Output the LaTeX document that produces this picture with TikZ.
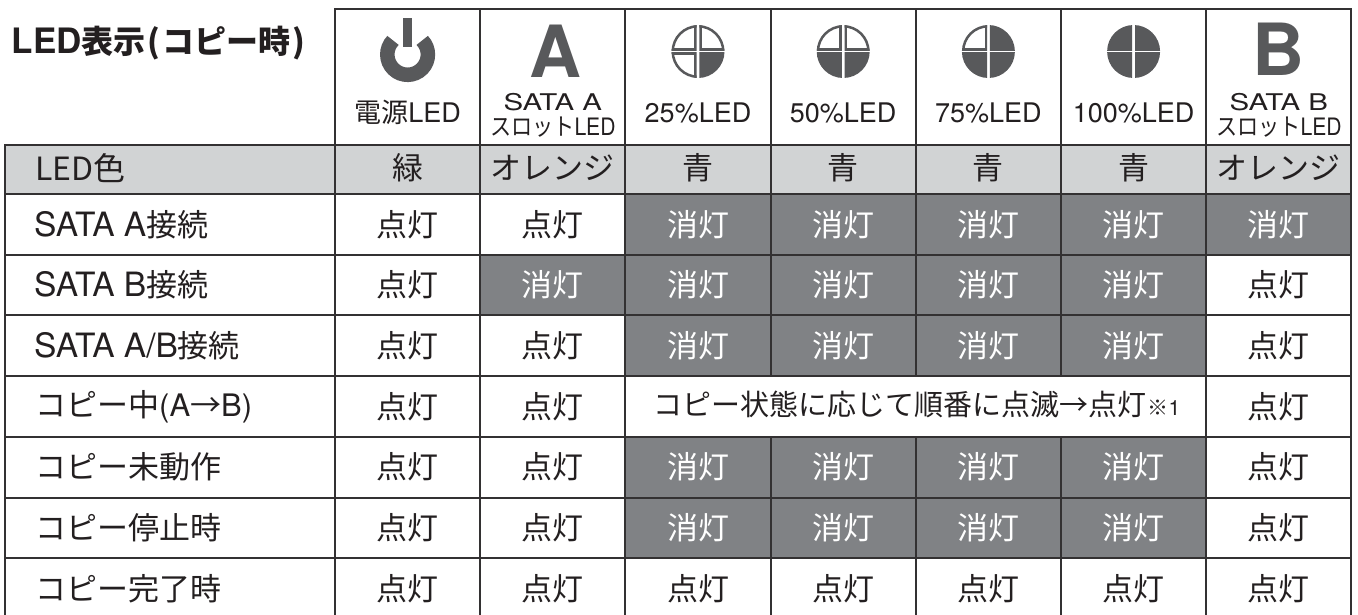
\documentclass[tikz,border=0pt]{standalone}
\usepackage{fontspec}
\usepackage{graphicx}
\setmainfont{Noto Sans CJK JP}
\newfontfamily\hv{TeX Gyre Heros}
\newcommand\h[1]{{\hv #1}}
\newcommand\sata[1]{{\hv\fontsize{33.5}{33.5}\selectfont #1}}
\definecolor{ink}{HTML}{231F20}
\definecolor{rule}{HTML}{333132}
\definecolor{band}{HTML}{D1D3D4}
\definecolor{dark}{HTML}{808285}
\definecolor{icon}{HTML}{58595B}
\tikzset{
  grid/.style={draw=rule, line width=2pt, line cap=rect},
  txt/.style={inner sep=0pt, text=ink, font=\fontsize{31}{31}\selectfont},
  lab/.style={inner sep=0pt, text=ink, anchor=west, font=\fontsize{31}{31}\selectfont},
  offtxt/.style={txt, text=white},
  hdr/.style={inner sep=0pt, text=ink, font=\fontsize{27}{27}\selectfont},
  hdrsmall/.style={inner sep=0pt, text=ink, font=\fontsize{23}{23}\selectfont},
  hdrkana/.style={inner sep=0pt, text=ink, font=\fontsize{24}{24}\selectfont},
  bigletter/.style={inner sep=0pt, text=icon, font=\hv\bfseries\fontsize{72}{72}\selectfont},
}
\newcommand\qg{1.4}
\newcommand\ledquad[5]{%
  \begin{scope}
    \clip ({#1+(#3)*\qg}, {#2+(#4)*\qg}) rectangle ++({(#3)*40}, {(#4)*40});
    \ifnum#5=1
      \fill[icon] (#1,#2) circle (26.5pt);
    \else
      \clip (#1,#2) circle (26.5pt);
      \draw[icon, line width=5pt] (#1,#2) circle (26.5pt);
      \draw[icon, line width=5pt] ({#1+(#3)*\qg}, {#2+(#4)*\qg}) rectangle ++({(#3)*40}, {(#4)*40});
    \fi
  \end{scope}}
\begin{document}
\begin{tikzpicture}[x=1pt, y=-1pt]
\useasboundingbox (0,0) rectangle (1358,614);
\fill[white] (0,0) rectangle (1358,614);

% grey band
\fill[band] (5,145) rectangle (1351.4,194);

% dark cells and data texts
\foreach \r/\fl in {1/{1,1,0,0,0,0,0},2/{1,0,0,0,0,0,1},3/{1,1,0,0,0,0,1},5/{1,1,0,0,0,0,1},6/{1,1,0,0,0,0,1},7/{1,1,1,1,1,1,1}}{
  \foreach \f [count=\c from 0] in \fl {
    \pgfmathsetmacro\xa{335+145.2*\c}
    \pgfmathsetmacro\xb{335+145.2*(\c+1)}
    \pgfmathsetmacro\xx{335+145.2*(\c+0.5)}
    \pgfmathsetmacro\ya{194+60.7*(\r-1)}
    \pgfmathsetmacro\yb{194+60.7*\r}
    \pgfmathsetmacro\yy{194+60.7*(\r-0.5)}
    \ifnum\f=1
      \node[txt] (r\r c\c) at (\xx,\yy) {点灯};
    \else
      \fill[dark] (\xa,\ya) rectangle (\xb,\yb);
      \node[offtxt] (r\r c\c) at (\xx,\yy) {消灯};
    \fi
  }
}
% copy row
\node[txt] (r4c0) at (407.6,406.45) {点灯};
\node[txt] (r4c1) at (552.8,406.45) {点灯};
\node[txt] (r4c6) at (1278.8,406.45) {点灯};
\node[inner sep=0pt, text=ink, font=\fontsize{29}{29}\selectfont] (r4m) at (917,404)
  {コピー状態に応じて順番に点滅→点灯{\fontsize{21}{21}\selectfont\hspace{1pt}※\h{1}}};

% grid
\draw[grid] (335,8.5) -- (1351.4,8.5);
\draw[grid] (5,145) -- (5,620);
\foreach \x in {335,480.2,625.4,1206.2,1351.4} \draw[grid] (\x,8.5) -- (\x,620);
\foreach \x in {770.6,915.8,1061} {
  \draw[grid] (\x,8.5) -- (\x,376.1);
  \draw[grid] (\x,436.8) -- (\x,620);
}
\foreach \y in {145,194,254.7,315.4,376.1,436.8,497.5,558.2} \draw[grid] (5,\y) -- (1351.4,\y);

% title
\node[anchor=west, inner sep=0pt, text=ink, font=\bfseries\fontsize{32}{32}\selectfont] (title) at (11.7,43)
  {{\hv\fontsize{35}{35}\selectfont LED}表示\hspace{2pt}(\hspace{2pt}コピー時\hspace{2pt})};

% header icons
\fill[icon] (403.1,18) rectangle (412.1,47);
\draw[icon, line width=14.5pt] ([shift={(136:20.3pt)}]407.6,54.5) arc[start angle=136, end angle=404, radius=20.3pt];
\node[bigletter] (iconA) at (555,51) {A};
\node[bigletter] (iconB) at (1278,49) {B};
% 25%
\ledquad{698}{51.5}{-1}{-1}{0}\ledquad{698}{51.5}{1}{-1}{0}\ledquad{698}{51.5}{-1}{1}{0}\ledquad{698}{51.5}{1}{1}{1}
% 50%
\ledquad{843.2}{51.5}{-1}{-1}{0}\ledquad{843.2}{51.5}{1}{-1}{0}\ledquad{843.2}{51.5}{-1}{1}{1}\ledquad{843.2}{51.5}{1}{1}{1}
% 75%
\ledquad{988.4}{51.5}{-1}{-1}{0}\ledquad{988.4}{51.5}{1}{-1}{1}\ledquad{988.4}{51.5}{-1}{1}{1}\ledquad{988.4}{51.5}{1}{1}{1}
% 100%
\ledquad{1133.6}{51.5}{-1}{-1}{1}\ledquad{1133.6}{51.5}{1}{-1}{1}\ledquad{1133.6}{51.5}{-1}{1}{1}\ledquad{1133.6}{51.5}{1}{1}{1}

% header labels
\node[hdr] (h0) at (407.6,112.5) {電源\h{LED}};
\node[hdrsmall] (h1a) at (552.8,102) {\scalebox{1.28}[1]{\h{SATA A}}};
\node[hdrkana] (h1b) at (552.8,127) {\scalebox{0.88}[1]{スロット\h{LED}}};
\node[hdr] (h2) at (698,112.5) {\h{25\%LED}};
\node[hdr] (h3) at (843.2,112.5) {\h{50\%LED}};
\node[hdr] (h4) at (988.4,112.5) {\h{75\%LED}};
\node[hdr] (h5) at (1133.6,112.5) {\h{100\%LED}};
\node[hdrsmall] (h6a) at (1278.8,102) {\scalebox{1.28}[1]{\h{SATA B}}};
\node[hdrkana] (h6b) at (1278.8,127) {\scalebox{0.88}[1]{スロット\h{LED}}};

% colour row
\node[anchor=west, inner sep=0pt, text=ink, font=\fontsize{32}{32}\selectfont] (colhead) at (35,168) {LED色};
\node[txt] (col0) at (407.6,168) {緑};
\node[txt] (col1) at (552.8,168) {オレンジ};
\node[txt] (col2) at (698,168) {青};
\node[txt] (col3) at (843.2,168) {青};
\node[txt] (col4) at (988.4,168) {青};
\node[txt] (col5) at (1133.6,168) {青};
\node[txt] (col6) at (1278.8,168) {オレンジ};

% row labels
\node[lab] (l1) at (34,224.35) {\sata{SATA A}接続};
\node[lab] (l2) at (34,285.05) {\sata{SATA B}接続};
\node[lab] (l3) at (34,345.75) {\sata{SATA A/B}接続};
\node[lab] (l4) at (35,406.45) {コピー中\h{(A}→\h{B)}};
\node[lab] (l5) at (35,467.15) {コピー未動作};
\node[lab] (l6) at (35,527.85) {コピー停止時};
\node[lab] (l7) at (35,588.55) {コピー完了時};
\end{tikzpicture}
\end{document}
